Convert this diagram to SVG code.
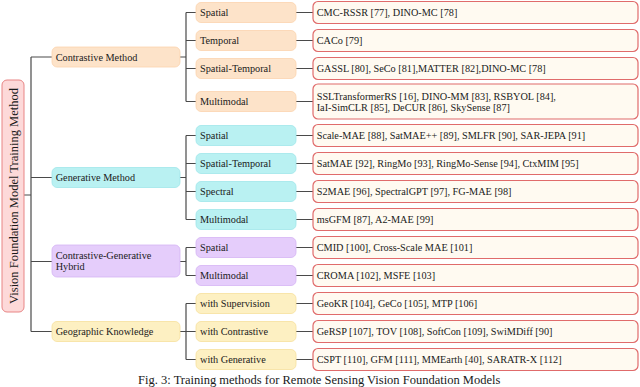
<svg xmlns="http://www.w3.org/2000/svg" width="640" height="387" viewBox="0 0 640 387">
<style>
text{font-family:"Liberation Serif","Times New Roman",serif;font-size:10.25px;fill:#1a1a1a}
.root{fill:#fdd9d9;stroke:#e88585;stroke-width:1}
.c1{fill:#fde3c9;stroke:#fbd3ad;stroke-width:0.8}
.g1{fill:#b9f1f2;stroke:#9fe6ea;stroke-width:0.8}
.h1{fill:#e5cdfb;stroke:#d4b4f4;stroke-width:0.8}
.k1{fill:#fdf0c2;stroke:#f6e09c;stroke-width:0.8}
.leaf{fill:#fffaf1;stroke:#e06b6b;stroke-width:1.2}
.con path{fill:none;stroke:#4a4a4a;stroke-width:1.2}
</style>
<g class="con">
<path d="M24 195H31M31 57V331.5M31 57H52M31 177.5H52M31 261.5H52M31 331.5H52"/>
<path d="M180 57H186M186 12.5V101.5M186 12.5H196M186 40.5H196M186 68.5H196M186 101.5H196"/>
<path d="M180 177.5H186M186 135.5V219.5M186 135.5H196M186 163.5H196M186 191.5H196M186 219.5H196"/>
<path d="M180 261.5H186M186 247.5V275.5M186 247.5H196M186 275.5H196"/>
<path d="M180 331.5H186M186 303.5V359.5M186 303.5H196M186 331.5H196M186 359.5H196"/>
<path d="M296 12.5H313M296 40.5H313M296 68.5H313M296 101.5H313M296 135.5H313M296 163.5H313M296 191.5H313M296 219.5H313M296 247.5H313M296 275.5H313M296 303.5H313M296 331.5H313M296 359.5H313"/>
</g>
<g id="root">
<rect class="root" x="2" y="80" width="22" height="232" rx="5"/>
<text x="0" y="0" transform="translate(17.5 196) rotate(-90)" text-anchor="middle" style="font-size:12.5px">Vision Foundation Model Training Method</text>
</g>
<g id="contrastive">
<rect class="c1" x="52" y="47" width="128" height="20" rx="5"/>
<text x="55.7" y="60.5">Contrastive Method</text>
</g>
<g id="c-spatial"><rect class="c1" x="196" y="2.5" width="100" height="20" rx="5"/><text x="200" y="16">Spatial</text></g>
<g id="c-temporal"><rect class="c1" x="196" y="30.5" width="100" height="20" rx="5"/><text x="200" y="44">Temporal</text></g>
<g id="c-st"><rect class="c1" x="196" y="58.5" width="100" height="20" rx="5"/><text x="200" y="72">Spatial-Temporal</text></g>
<g id="c-mm"><rect class="c1" x="196" y="91.5" width="100" height="20" rx="5"/><text x="200" y="105">Multimodal</text></g>
<g id="generative">
<rect class="g1" x="52" y="167.5" width="128" height="20" rx="5"/>
<text x="55.7" y="181">Generative Method</text>
</g>
<g id="g-spatial"><rect class="g1" x="196" y="125.5" width="100" height="20" rx="5"/><text x="200" y="139">Spatial</text></g>
<g id="g-st"><rect class="g1" x="196" y="153.5" width="100" height="20" rx="5"/><text x="200" y="167">Spatial-Temporal</text></g>
<g id="g-spectral"><rect class="g1" x="196" y="181.5" width="100" height="20" rx="5"/><text x="200" y="195">Spectral</text></g>
<g id="g-mm"><rect class="g1" x="196" y="209.5" width="100" height="20" rx="5"/><text x="200" y="223">Multimodal</text></g>
<g id="hybrid">
<rect class="h1" x="52" y="245" width="128" height="32" rx="5"/>
<text x="55.7" y="258.5">Contrastive-Generative</text>
<text x="55.7" y="269.5">Hybrid</text>
</g>
<g id="h-spatial"><rect class="h1" x="196" y="237.5" width="100" height="20" rx="5"/><text x="200" y="251">Spatial</text></g>
<g id="h-mm"><rect class="h1" x="196" y="265.5" width="100" height="20" rx="5"/><text x="200" y="279">Multimodal</text></g>
<g id="geographic">
<rect class="k1" x="52" y="321.5" width="128" height="20" rx="5"/>
<text x="55.7" y="335">Geographic Knowledge</text>
</g>
<g id="k-sup"><rect class="k1" x="196" y="293.5" width="100" height="20" rx="5"/><text x="200" y="307">with Supervision</text></g>
<g id="k-con"><rect class="k1" x="196" y="321.5" width="100" height="20" rx="5"/><text x="200" y="335">with Contrastive</text></g>
<g id="k-gen"><rect class="k1" x="196" y="349.5" width="100" height="20" rx="5"/><text x="200" y="363">with Generative</text></g>
<g id="l1"><rect class="leaf" x="313" y="1.5" width="325" height="22" rx="5"/><text x="316.7" y="16">CMC-RSSR [77], DINO-MC [78]</text></g>
<g id="l2"><rect class="leaf" x="313" y="29.5" width="325" height="22" rx="5"/><text x="316.7" y="44">CACo [79]</text></g>
<g id="l3"><rect class="leaf" x="313" y="57.5" width="325" height="22" rx="5"/><text x="316.7" y="72">GASSL [80], SeCo [81],MATTER [82],DINO-MC [78]</text></g>
<g id="l4"><rect class="leaf" x="313" y="84" width="325" height="35" rx="5"/><text x="316.7" y="100">SSLTransformerRS [16], DINO-MM [83], RSBYOL [84],</text><text x="316.7" y="111">IaI-SimCLR [85], DeCUR [86], SkySense [87]</text></g>
<g id="l5"><rect class="leaf" x="313" y="124.5" width="325" height="22" rx="5"/><text x="316.7" y="139">Scale-MAE [88], SatMAE++ [89], SMLFR [90], SAR-JEPA [91]</text></g>
<g id="l6"><rect class="leaf" x="313" y="152.5" width="325" height="22" rx="5"/><text x="316.7" y="167">SatMAE [92], RingMo [93], RingMo-Sense [94], CtxMIM [95]</text></g>
<g id="l7"><rect class="leaf" x="313" y="180.5" width="325" height="22" rx="5"/><text x="316.7" y="195">S2MAE [96], SpectralGPT [97], FG-MAE [98]</text></g>
<g id="l8"><rect class="leaf" x="313" y="208.5" width="325" height="22" rx="5"/><text x="316.7" y="223">msGFM [87], A2-MAE [99]</text></g>
<g id="l9"><rect class="leaf" x="313" y="236.5" width="325" height="22" rx="5"/><text x="316.7" y="251">CMID [100], Cross-Scale MAE [101]</text></g>
<g id="l10"><rect class="leaf" x="313" y="264.5" width="325" height="22" rx="5"/><text x="316.7" y="279">CROMA [102], MSFE [103]</text></g>
<g id="l11"><rect class="leaf" x="313" y="292.5" width="325" height="22" rx="5"/><text x="316.7" y="307">GeoKR [104], GeCo [105], MTP [106]</text></g>
<g id="l12"><rect class="leaf" x="313" y="320.5" width="325" height="22" rx="5"/><text x="316.7" y="335">GeRSP [107], TOV [108], SoftCon [109], SwiMDiff [90]</text></g>
<g id="l13"><rect class="leaf" x="313" y="348.5" width="325" height="22" rx="5"/><text x="316.7" y="363">CSPT [110], GFM [111], MMEarth [40], SARATR-X [112]</text></g>
<text x="319.2" y="383.5" text-anchor="middle" style="font-size:12.5px">Fig. 3: Training methods for Remote Sensing Vision Foundation Models</text>
</svg>
